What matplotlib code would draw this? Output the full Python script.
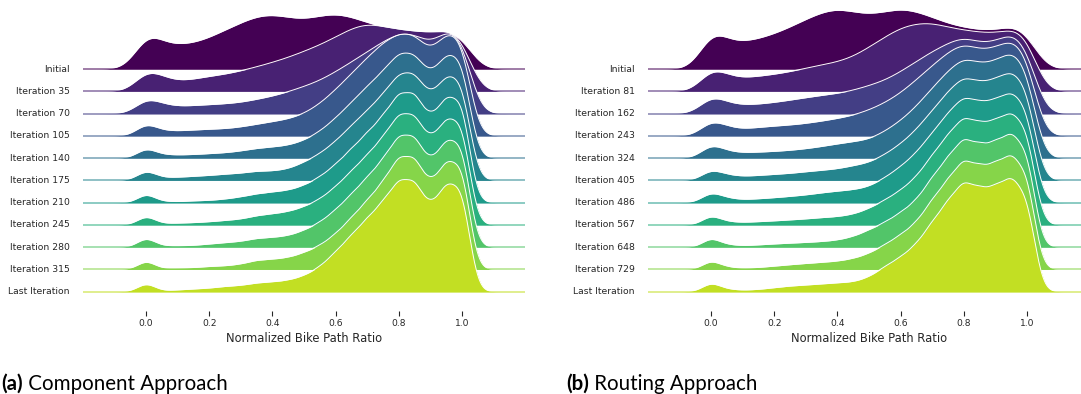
import numpy as np
import matplotlib
matplotlib.use("Agg")
import matplotlib.pyplot as plt
from matplotlib import cm
from matplotlib.transforms import blended_transform_factory

# bike path ratio bins (0.00 ... 1.00)
bins = np.round(np.arange(0, 1.0001, 0.05), 2)

# share of edges (%) per ratio bin
# (a) Component approach
comp_labels = ["Initial", "Iteration 35", "Iteration 70", "Iteration 105", "Iteration 140",
               "Iteration 175", "Iteration 210", "Iteration 245", "Iteration 280",
               "Iteration 315", "Last Iteration"]
comp_initial = [5.1, 2.9, 2.7, 2.9, 3.5, 4.4, 5.2, 6.0, 6.2, 5.8, 5.5, 6.0, 6.3, 5.9, 5.2, 4.7, 4.4, 4.2, 4.1, 4.2, 4.3]
comp_it35 = [2.9, 1.7, 1.1, 1.35, 1.7, 1.9, 2.3, 2.75, 3.25, 3.8, 4.5, 5.2, 6.1, 7.1, 7.7, 7.3, 6.95, 6.8, 6.55, 6.9, 6.9]
comp_it70 = [2.1, 1.1, 0.8, 0.9, 1.0, 1.1, 1.25, 1.6, 1.95, 2.45, 3.05, 3.7, 4.7, 5.8, 6.95, 8.1, 9.1, 9.1, 7.6, 9.5, 9.5]
comp_it105 = [1.65, 0.6, 0.55, 0.65, 0.75, 0.8, 1.0, 1.3, 1.6, 1.9, 2.5, 3.6, 5.2, 7.0, 8.8, 10.5, 11.6, 11.6, 9.3, 11.7, 11.7]
comp_it140 = [1.3, 0.4, 0.35, 0.4, 0.5, 0.6, 0.8, 1.1, 1.25, 1.45, 2.0, 3.0, 4.5, 6.3, 8.1, 9.8, 12.0, 12.0, 9.2, 11.9, 11.9]
comp_it175 = [1.3, 0.3, 0.35, 0.45, 0.55, 0.7, 0.8, 1.05, 1.05, 1.3, 2.05, 3.0, 4.4, 6.2, 7.9, 9.7, 12.2, 12.4, 9.3, 12.0, 12.0]
comp_it210 = [1.1, 0.15, 0.1, 0.2, 0.25, 0.4, 0.65, 1.0, 1.2, 1.4, 1.95, 2.9, 4.3, 6.1, 7.9, 9.8, 12.5, 12.6, 9.4, 12.1, 12.1]
comp_it245 = [1.15, 0.15, 0.2, 0.25, 0.35, 0.5, 0.65, 1.05, 1.25, 1.5, 2.05, 2.9, 4.3, 6.1, 7.9, 9.9, 12.7, 12.7, 9.4, 12.2, 12.2]
comp_it280 = [1.2, 0.15, 0.15, 0.2, 0.35, 0.5, 0.65, 1.0, 1.1, 1.3, 1.9, 2.8, 4.2, 6.0, 7.9, 9.9, 12.8, 12.8, 9.4, 12.3, 12.3]
comp_it315 = [1.1, 0.1, 0.15, 0.2, 0.35, 0.4, 0.6, 1.05, 1.15, 1.35, 1.9, 2.7, 4.0, 5.85, 7.8, 9.9, 12.9, 12.9, 9.5, 12.4, 12.4]
comp_last = [1.1, 0.1, 0.2, 0.3, 0.4, 0.6, 0.7, 1.0, 1.1, 1.3, 1.8, 2.8, 4.5, 6.4, 8.3, 10.2, 12.8, 12.8, 9.4, 12.4, 12.4]

# (b) Routing approach
rout_labels = ["Initial", "Iteration 81", "Iteration 162", "Iteration 243", "Iteration 324",
               "Iteration 405", "Iteration 486", "Iteration 567", "Iteration 648",
               "Iteration 729", "Last Iteration"]
rout_initial = [5.4, 3.15, 3.0, 3.4, 3.95, 4.7, 5.6, 6.4, 6.9, 6.4, 6.1, 6.4, 6.9, 6.5, 5.85, 5.1, 4.7, 4.4, 4.3, 4.95, 4.7]
rout_it81 = [3.2, 1.8, 1.45, 1.7, 1.9, 2.2, 2.6, 2.95, 3.3, 3.85, 4.95, 6.1, 7.2, 7.65, 7.75, 7.2, 6.9, 6.65, 6.5, 7.0, 7.1]
rout_it162 = [2.5, 1.2, 0.95, 1.05, 1.25, 1.5, 1.8, 2.05, 2.25, 2.6, 3.15, 3.7, 4.7, 5.85, 7.0, 7.9, 8.8, 7.9, 8.0, 9.3, 8.3]
rout_it243 = [2.1, 1.05, 0.75, 0.95, 1.1, 1.2, 1.4, 1.65, 1.95, 2.3, 2.9, 3.7, 4.8, 6.3, 7.9, 9.4, 10.6, 9.6, 9.9, 11.0, 9.9]
rout_it324 = [1.85, 0.8, 0.6, 0.67, 0.75, 0.87, 1.05, 1.3, 1.6, 1.85, 2.1, 3.0, 4.2, 5.8, 7.9, 9.8, 11.5, 10.6, 10.9, 12.2, 10.8]
rout_it405 = [1.4, 0.65, 0.45, 0.55, 0.67, 0.78, 0.97, 1.12, 1.3, 1.65, 2.0, 2.9, 4.1, 5.7, 7.9, 10.0, 11.9, 11.0, 11.4, 12.5, 11.1]
rout_it486 = [1.35, 0.55, 0.33, 0.43, 0.55, 0.7, 0.86, 1.1, 1.3, 1.45, 1.8, 2.8, 4.05, 5.6, 7.9, 10.1, 12.2, 11.3, 11.6, 12.7, 11.3]
rout_it567 = [1.2, 0.38, 0.28, 0.36, 0.45, 0.56, 0.67, 0.82, 0.93, 1.2, 1.85, 2.8, 3.9, 5.4, 7.9, 10.2, 12.4, 11.5, 11.8, 12.9, 11.4]
rout_it648 = [1.15, 0.3, 0.17, 0.25, 0.37, 0.45, 0.53, 0.63, 0.8, 1.2, 1.95, 2.8, 3.9, 5.3, 7.9, 10.2, 12.5, 11.6, 11.9, 13.1, 11.4]
rout_it729 = [1.1, 0.3, 0.12, 0.22, 0.37, 0.53, 0.67, 0.79, 0.93, 1.23, 1.8, 2.8, 3.9, 5.3, 7.9, 10.2, 12.6, 11.7, 12.0, 13.2, 11.4]
rout_last = [1.15, 0.3, 0.17, 0.25, 0.45, 0.64, 0.75, 0.87, 1.0, 1.1, 1.65, 2.85, 3.9, 5.35, 7.9, 10.3, 12.7, 11.7, 11.9, 13.2, 11.3]

comp_rows = [comp_initial, comp_it35, comp_it70, comp_it105, comp_it140, comp_it175,
             comp_it210, comp_it245, comp_it280, comp_it315, comp_last]
rout_rows = [rout_initial, rout_it81, rout_it162, rout_it243, rout_it324, rout_it405,
             rout_it486, rout_it567, rout_it648, rout_it729, rout_last]

xs = np.linspace(-0.2, 1.2, 700)
BW_FACTOR = 0.15   # kde bandwidth = factor * std of the row
SCALE = 1.994      # density -> row spacings


def kde(shares):
    w = np.array(shares) / 100
    mu = (w * bins).sum() / w.sum()
    sd = np.sqrt((w * (bins - mu) ** 2).sum() / w.sum())
    bw = BW_FACTOR * sd
    k = np.exp(-0.5 * ((xs[:, None] - bins[None, :]) / bw) ** 2) / (bw * np.sqrt(2 * np.pi))
    return k @ w


def ridge(ax, rows, labels):
    n = len(rows)
    trans = blended_transform_factory(ax.transAxes, ax.transData)
    for i, (shares, lab) in enumerate(zip(rows, labels)):
        base = -i
        y = base + kde(shares) * SCALE
        c = cm.viridis(i / n)
        ax.fill_between(xs, base, y, color=c, lw=0, zorder=3 * i + 1)
        ax.plot(xs, y, color="white", lw=0.7, zorder=3 * i + 2)
        ax.plot(xs, np.full_like(xs, base), color=c, lw=1.2, alpha=0.6, zorder=3 * i + 3)
        ax.text(-0.03, base, lab, transform=trans, ha="right", va="center",
                fontsize=6.7, color="0.15")
    ax.set_xlim(-0.2, 1.2)
    ax.set_ylim(-10.885, 3.0)
    ax.set_yticks([])
    ax.set_xticks([0.0, 0.2, 0.4, 0.6, 0.8, 1.0])
    ax.set_xticklabels(["0.0", "0.2", "0.4", "0.6", "0.8", "1.0"])
    ax.tick_params(axis="x", length=3.5, width=0.8, color="0.15", labelsize=6.6,
                   labelcolor="0.15", pad=2)
    for s in ax.spines.values():
        s.set_visible(False)
    ax.set_xlabel("Normalized Bike Path Ratio", fontsize=8.3, color="0.15", labelpad=3)


fig = plt.figure(figsize=(10.81, 3.94), dpi=100)
ax1 = fig.add_axes([0.0768, 0.2096, 0.4089, 0.7848])
ax2 = fig.add_axes([0.5994, 0.2096, 0.4089, 0.7848])
ridge(ax1, comp_rows, comp_labels)
ridge(ax2, rout_rows, rout_labels)

# sub-captions
renderer = fig.canvas.get_renderer()
for xpos, tag, text in [(0.001, "(a)", "Component Approach"), (0.5236, "(b)", "Routing Approach")]:
    t = fig.text(xpos, 0.011, tag, fontfamily="Lato", fontweight="bold", fontsize=14.8,
                 va="baseline", ha="left")
    bb = t.get_window_extent(renderer)
    x1 = fig.transFigure.inverted().transform((bb.x1, bb.y0))[0]
    fig.text(x1, 0.011, " " + text, fontfamily="Lato", fontsize=14.8, va="baseline", ha="left")

fig.savefig("out.png", dpi=100)
